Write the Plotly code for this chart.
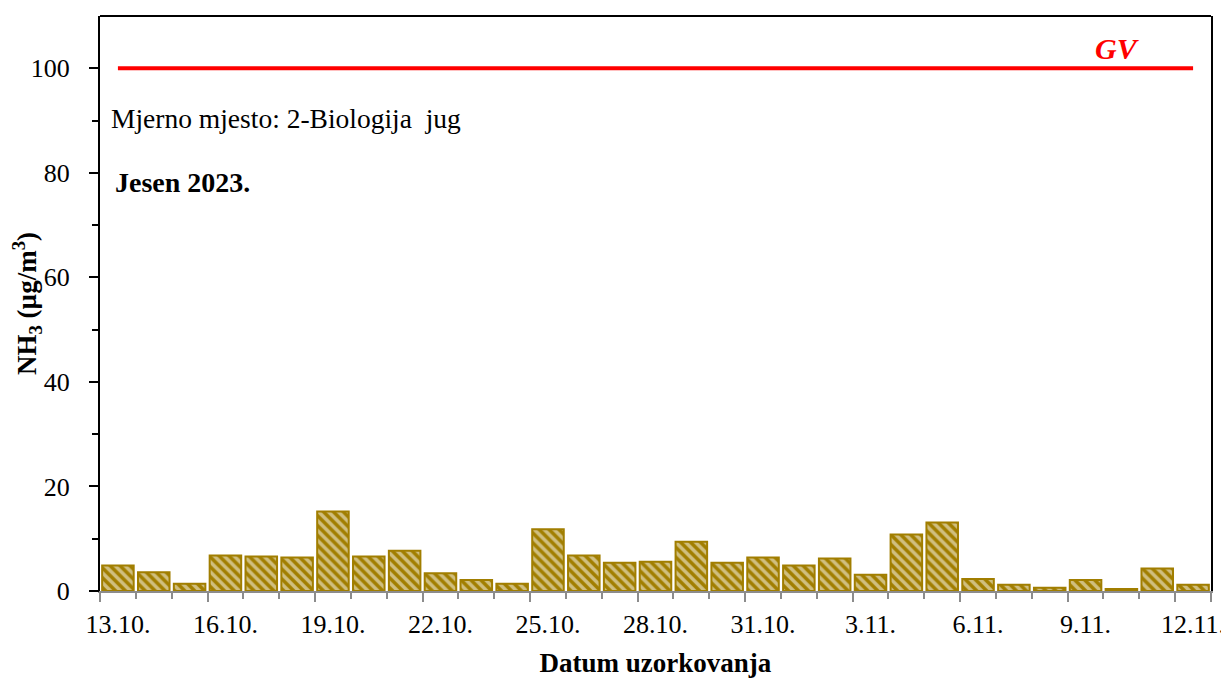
import plotly.graph_objects as go

dates = ["13.10.", "14.10.", "15.10.", "16.10.", "17.10.", "18.10.", "19.10.", "20.10.",
         "21.10.", "22.10.", "23.10.", "24.10.", "25.10.", "26.10.", "27.10.", "28.10.",
         "29.10.", "30.10.", "31.10.", "1.11.", "2.11.", "3.11.", "4.11.", "5.11.",
         "6.11.", "7.11.", "8.11.", "9.11.", "10.11.", "11.11.", "12.11."]
nh3 = [4.9, 3.6, 1.4, 6.8, 6.6, 6.4, 15.2, 6.6, 7.7, 3.4, 2.1, 1.4, 11.8, 6.8, 5.4, 5.6,
       9.4, 5.4, 6.4, 4.9, 6.2, 3.1, 10.8, 13.1, 2.3, 1.2, 0.6, 2.1, 0.4, 4.3, 1.2]
gv_value = 100
label_step = 3
y_major = [0, 20, 40, 60, 80, 100]
y_minor = [10, 30, 50, 70, 90]

n = len(dates)
xpos = list(range(n))
gold = "#A17E00"
FONT = "Liberation Serif, Times New Roman, serif"

fig = go.Figure()
fig.add_trace(go.Bar(
    x=xpos, y=nh3, width=0.88,
    marker=dict(color=gold, line=dict(color=gold, width=2),
                pattern=dict(shape="\\", bgcolor=gold, fgcolor="white", size=7, solidity=0.5)),
    showlegend=False, hoverinfo="y"))
fig.add_trace(go.Scatter(
    x=[xpos[0], xpos[-1]], y=[gv_value, gv_value], mode="lines",
    line=dict(color="#FF0000", width=4), showlegend=False))
# invisible traces on helper axes
fig.add_trace(go.Scatter(x=[xpos[0]], y=[None], xaxis="x2", yaxis="y2",
                         showlegend=False, hoverinfo="skip"))

xr = [-0.5, n - 0.5]
yr = [0, 110]
fig.update_layout(
    width=1221, height=670,
    margin=dict(l=92, r=18, t=8, b=87, autoexpand=False),
    plot_bgcolor="white", paper_bgcolor="white",
    font=dict(family=FONT, size=26, color="black"),
    xaxis=dict(range=xr, showgrid=False, zeroline=False, automargin=False,
               showline=True, linecolor="#8C8C8C", linewidth=2,
               tickmode="array",
               tickvals=[b - 0.5 for b in range(0, n + 1, label_step)] + [n - 0.5],
               ticks="outside", ticklen=9, tickcolor="#8C8C8C", tickwidth=2,
               showticklabels=False,
               minor=dict(tickmode="array", tickvals=[b - 0.5 for b in range(n + 1)],
                          ticks="outside", ticklen=6, tickcolor="#8C8C8C", tickwidth=2)),
    xaxis2=dict(range=xr, overlaying="x", side="bottom", anchor="y", automargin=False,
                showgrid=False, zeroline=False, showline=False,
                ticks="outside", ticklen=10, tickcolor="rgba(0,0,0,0)",
                tickmode="array", tickvals=xpos[::label_step],
                ticktext=dates[::label_step],
                tickfont=dict(family=FONT, size=26, color="black"),
                title=dict(text="<b>Datum uzorkovanja</b>", standoff=24,
                           font=dict(family=FONT, size=27, color="black"))),
    yaxis=dict(range=yr, showgrid=False, zeroline=False, automargin=False,
               showline=True, linecolor="black", linewidth=2, mirror=True,
               tickmode="array", tickvals=y_major,
               ticks="outside", ticklen=23, tickcolor="rgba(0,0,0,0)", tickwidth=2,
               tickfont=dict(family=FONT, size=26, color="black"),
               title=dict(text="<b>NH<sub>3</sub> (µg/m<sup>3</sup>)</b>", standoff=0,
                          font=dict(family=FONT, size=27, color="black"))),
    yaxis2=dict(range=yr, overlaying="y", side="left", anchor="x", automargin=False,
                showgrid=False, zeroline=False, showline=False, showticklabels=False,
                tickmode="array", tickvals=y_major,
                ticks="outside", ticklen=10, tickcolor="black", tickwidth=2,
                minor=dict(tickmode="array", tickvals=y_minor,
                           ticks="outside", ticklen=7, tickcolor="black", tickwidth=2)),
    bargap=0.12,
)
fig.add_shape(type="line", xref="paper", yref="paper", x0=0, x1=1, y0=1, y1=1,
              line=dict(color="black", width=2))
fig.add_annotation(x=0.008, y=0.8226, xref="paper", yref="paper", xanchor="left", yanchor="middle",
                   text="Mjerno mjesto: 2-Biologija  jug", showarrow=False,
                   font=dict(family=FONT, size=27.5, color="black"))
fig.add_annotation(x=0.012, y=0.7096, xref="paper", yref="paper", xanchor="left", yanchor="middle",
                   text="<b>Jesen 2023.</b>", showarrow=False,
                   font=dict(family=FONT, size=28, color="black"))
fig.add_annotation(x=0.916, y=0.944, xref="paper", yref="paper", xanchor="center", yanchor="middle",
                   text="<b><i>GV</i></b>", showarrow=False,
                   font=dict(family=FONT, size=30, color="#FF0000"))

fig.write_html("out.html")
